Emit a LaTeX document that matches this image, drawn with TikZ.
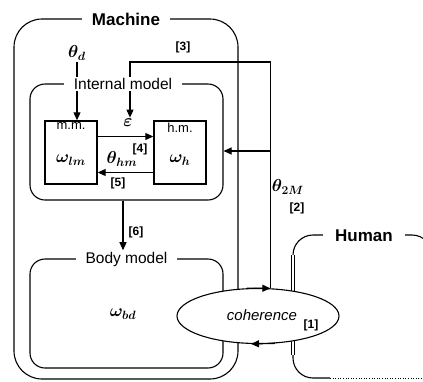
\documentclass[tikz,border=0pt]{standalone}
\usepackage{amsmath,bm}
\usepackage{fontspec}
\setmainfont{Liberation Sans}
\usetikzlibrary{arrows.meta,positioning,shapes.geometric}

\begin{document}
\begin{tikzpicture}[x=1pt, y=-1pt, line width=1.1pt, >={Triangle[length=8pt,width=7pt]}]
      \tikzstyle{group}=[draw,rounded corners=15pt,inner sep=0pt]
      \tikzstyle{title}=[fill=white,inner xsep=10pt,inner ysep=1pt,font=\fontsize{15.5}{16}\selectfont]
      \tikzstyle{model}=[draw,line width=1.4pt,minimum width=52pt,minimum height=63pt,inner sep=0pt]
      \tikzstyle{tag}=[inner sep=1pt,font=\bfseries\fontsize{12}{13}\selectfont]
      \tikzstyle{var}=[inner sep=1pt,font=\fontsize{17}{18}\selectfont]
      \clip (0,0) rectangle (423,381);
      \fill[white] (0,0) rectangle (423,381);
      % containers
      \draw[rounded corners=28pt] (14,19) rectangle (238,379);
      \node[group,minimum width=193pt,minimum height=116pt] (im) at (126.5,142) {};
      \node[group,minimum width=193pt,minimum height=109pt] (bm) at (126.5,313.5) {};
      \draw[rounded corners=20pt] (330,378) -- (293,378) -- (293,235) -- (432,235) -- (432,378);
      \draw[dotted,line width=0.6pt] (330,378) -- (423,378);
      \draw[double,double distance=1.6pt,line width=0.9pt] (293,255) -- (293,355);
      % models
      \node[model] (mm) at (71,152.5) {};
      \node[model] (hm) at (180,152.5) {};
      \node[anchor=north,inner sep=2pt,font=\fontsize{13}{14}\selectfont] (mmt) at (mm.north) {m.m.};
      \node[anchor=north,inner sep=2pt,font=\fontsize{13}{14}\selectfont] (hmt) at (hm.north) {h.m.};
      \node[var] (wm) at (71,160) {$\bm{\omega_{lm}}$};
      \node[var] (wh) at (180,160) {$\bm{\omega_{h}}$};
      \node[var] (wbd) at (123,314) {$\bm{\omega_{bd}}$};
      \node[var] (thd) at (77,53) {$\bm{\theta_d}$};
      \node[var] (eps) at (128,123) {$\bm{\varepsilon}$};
      \node[var] (thm) at (122,159) {$\bm{\theta_{hm}}$};
      \node[var] (th2) at (288,187) {$\bm{\theta_{2M}}$};
      % coherence
      \node[ellipse,draw,fill=white,minimum width=162pt,minimum height=55pt,inner sep=0pt] (coh) at (258,316) {};
      \node[inner sep=1pt,font=\itshape\fontsize{15}{16}\selectfont] (coht) at (262,315) {coherence};
      \draw[->] (coh.112) -- (coh.66);
      \draw[->] (coh.-58) -- (coh.-104);
      \coordinate (j2) at (coh.66);
      \coordinate (k3) at (130,62);
      \coordinate (k2) at (j2 |- 0,151);
      \draw[->] (j2) |- (k3) -- (k3 |- eps.north);
      \draw[->] (k2) -- (k2 -| im.east);
      \draw[->] (thd) -- (thd |- mm.north);
      \draw[->] ([yshift=16pt]mm.east) -- ([yshift=16pt]hm.west);
      \draw[->] ([yshift=-20pt]hm.west) -- ([yshift=-20pt]mm.east);
      \node[title] (bmt) at (126.5,259) {Body model};
      \draw[->] ([xshift=-3.5pt]im.south) -- ([xshift=-3.5pt]bmt.north);
      % tags
      \node[tag] (t1) at (311,325) {[1]};
      \node[tag] (t2) at (297,208) {[2]};
      \node[tag] (t3) at (183,47) {[3]};
      \node[tag] (t4) at (140,149) {[4]};
      \node[tag] (t5) at (118,183) {[5]};
      \node[tag] (t6) at (136,232) {[6]};
      % titles
      \node[title] (imt) at (123,84) {Internal model};
      \node[title,font=\bfseries\fontsize{17}{18}\selectfont] (mt) at (126,19) {Machine};
      \node[title,inner xsep=12pt,font=\bfseries\fontsize{17}{18}\selectfont] (ht) at (364,236) {Human};

    \end{tikzpicture}
\end{document}
